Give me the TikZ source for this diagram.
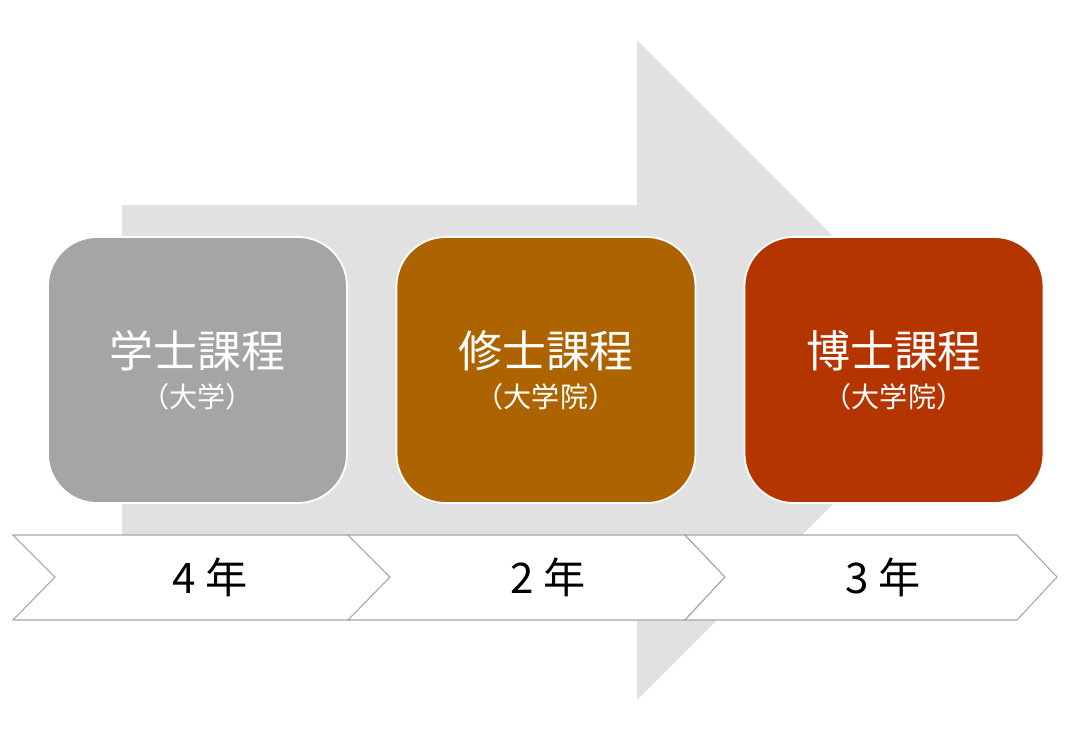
\documentclass[tikz,border=0pt]{standalone}
\usepackage{fontspec}
\setmainfont{Noto Sans CJK JP}
\definecolor{arrowGray}{HTML}{E1E1E1}
\definecolor{bachGray}{HTML}{A5A5A5}
\definecolor{masterOchre}{HTML}{AD6400}
\definecolor{doctorRust}{HTML}{B43500}
\tikzset{
 course/.style={draw=white, line width=1pt, rounded corners=28pt, minimum width=299*0.02cm,
   minimum height=266*0.02cm, text=white, align=center, inner sep=0pt},
 yearbar/.style={draw=gray!70, fill=white, line width=0.6pt}
}
\begin{document}
\begin{tikzpicture}[x=0.02cm,y=-0.02cm]
 \useasboundingbox (0,0) rectangle (1080,728);
 % Big arrow
 \fill[arrowGray] (122,205) -- (637,205) -- (637,40) -- (967,370) -- (637,700) -- (637,535) -- (122,535) -- cycle;
 % Courses
 \node[course, fill=bachGray] (bach) at (197.5,370) {\fontsize{25}{30}\selectfont 学士課程\\[6pt]\fontsize{16}{20}\selectfont （大学）};
 \node[course, fill=masterOchre] (master) at (546,370) {\fontsize{25}{30}\selectfont 修士課程\\[6pt]\fontsize{16}{20}\selectfont （大学院）};
 \node[course, fill=doctorRust] (doctor) at (894,370) {\fontsize{25}{30}\selectfont 博士課程\\[6pt]\fontsize{16}{20}\selectfont （大学院）};
 % Years
 \draw[yearbar] (13,535) -- (350,535) -- (390,577) -- (350,620) -- (13,620) -- (55,577) -- cycle;
 \draw[yearbar] (348,535) -- (685,535) -- (725,577) -- (685,620) -- (348,620) -- (390,577) -- cycle;
 \draw[yearbar] (685,535) -- (1017,535) -- (1057,577) -- (1017,620) -- (685,620) -- (725,577) -- cycle;
 \node[font=\fontsize{24}{28}\selectfont] (four) at (210,577) {4 年};
 \node[font=\fontsize{24}{28}\selectfont] (two) at (548,577) {2 年};
 \node[font=\fontsize{24}{28}\selectfont] (three) at (883,577) {3 年};
\end{tikzpicture}
\end{document}
